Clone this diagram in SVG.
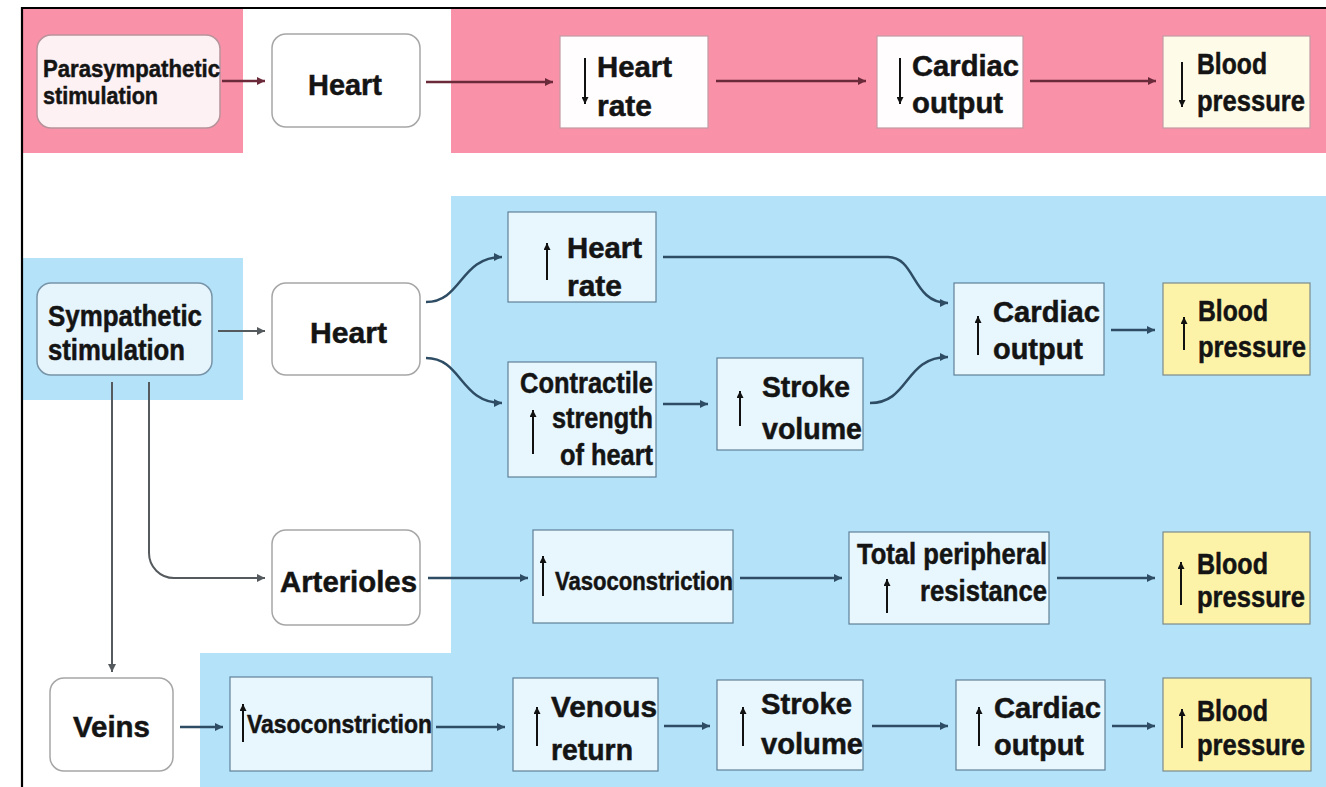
<svg xmlns="http://www.w3.org/2000/svg" width="1326" height="787" viewBox="0 0 1326 787">
  <style>
    .lbl { font-family: "Liberation Sans", Arial, sans-serif; font-weight: bold; fill: #141414; stroke: #141414; stroke-width: 0.5; }
    .f22 { font-size: 24px; }
    .f24 { font-size: 26px; }
    .f27 { font-size: 29px; }
    .f28 { font-size: 30px; }
    .node-r { fill: #ffffff; stroke: #a6a6a6; stroke-width: 1.5; }
    .box-p { fill: #fffdfd; stroke: #c49aa4; stroke-width: 1.2; }
    .box-b { fill: #e8f7fd; stroke: #5f8098; stroke-width: 1.2; }
    .box-y { fill: #fdf3a8; stroke: #7d8a8a; stroke-width: 1.2; }
    .c-pink { fill: none; stroke: #6b2a3a; stroke-width: 2.5; marker-end: url(#ah-pink); }
    .c-blue { fill: none; stroke: #2e4d64; stroke-width: 2.5; marker-end: url(#ah-blue); }
    .c-gray { fill: none; stroke: #555a5e; stroke-width: 2; marker-end: url(#ah-gray); }
    .ind { fill: none; stroke: #111; stroke-width: 2; marker-end: url(#ah-ind); }
  </style>
  <defs>
    <marker id="ah-pink" viewBox="0 0 10 10" refX="10" refY="5" markerWidth="11" markerHeight="8" markerUnits="userSpaceOnUse" orient="auto">
      <path d="M0,0 L10,5 L0,10 z" fill="#6b2a3a"/>
    </marker>
    <marker id="ah-blue" viewBox="0 0 10 10" refX="10" refY="5" markerWidth="11" markerHeight="8" markerUnits="userSpaceOnUse" orient="auto">
      <path d="M0,0 L10,5 L0,10 z" fill="#2e4d64"/>
    </marker>
    <marker id="ah-gray" viewBox="0 0 10 10" refX="10" refY="5" markerWidth="10" markerHeight="8" markerUnits="userSpaceOnUse" orient="auto">
      <path d="M0,0 L10,5 L0,10 z" fill="#555a5e"/>
    </marker>
    <marker id="ah-ind" viewBox="0 0 10 10" refX="10" refY="5" markerWidth="10" markerHeight="7" markerUnits="userSpaceOnUse" orient="auto">
      <path d="M0,0 L10,5 L0,10 z" fill="#111"/>
    </marker>
  </defs>

  <!-- page background -->
  <rect x="0" y="0" width="1326" height="787" fill="#ffffff"/>

  <!-- coloured bands -->
  <g id="bands">
    <rect x="22" y="8" width="221" height="145" fill="#f991a8"/>
    <rect x="451" y="8" width="875" height="145" fill="#f991a8"/>
    <rect x="22" y="258" width="221" height="142" fill="#b3e2f9"/>
    <path d="M451,196 H1326 V787 H200 V653 H451 Z" fill="#b3e2f9"/>
  </g>

  <!-- frame -->
  <g id="frame" stroke="#000" stroke-width="2.2" fill="none">
    <path d="M22,787 V8 H1326"/>
  </g>

  <!-- connectors -->
  <g id="connectors">
    <path class="c-pink" d="M222,81 H265"/>
    <path class="c-pink" d="M426,82 H553"/>
    <path class="c-pink" d="M716,81 H866"/>
    <path class="c-pink" d="M1030,81 H1156"/>

    <path class="c-gray" d="M218,331 H265"/>
    <path class="c-gray" d="M112,382 V672"/>
    <path class="c-gray" d="M149,382 V553 A25,25 0 0 0 174,578 H265"/>

    <path class="c-blue" d="M426,302 C462,302 460,257 502,257"/>
    <path class="c-blue" d="M426,358 C462,358 460,403 502,403"/>
    <path class="c-blue" d="M663,257 H888 C916,257 912,303 948,303"/>
    <path class="c-blue" d="M663,404 H708"/>
    <path class="c-blue" d="M870,403 C910,403 904,357 948,357"/>
    <path class="c-blue" d="M1111,330 H1155"/>

    <path class="c-blue" d="M428,578 H528"/>
    <path class="c-blue" d="M740,578 H842"/>
    <path class="c-blue" d="M1057,578 H1155"/>

    <path class="c-blue" d="M180,727 H223"/>
    <path class="c-blue" d="M436,727 H505"/>
    <path class="c-blue" d="M664,726 H710"/>
    <path class="c-blue" d="M872,726 H948"/>
    <path class="c-blue" d="M1112,726 H1155"/>
  </g>

  <!-- parasympathetic chain -->
  <g id="para-stim">
    <rect x="37" y="35" width="183" height="93" rx="14" fill="#fdf1f3" stroke="#b8939b" stroke-width="1.5"/>
    <text class="lbl f22" x="43" y="77" textLength="177" lengthAdjust="spacingAndGlyphs">Parasympathetic</text>
    <text class="lbl f22" x="43" y="104" textLength="115" lengthAdjust="spacingAndGlyphs">stimulation</text>
  </g>
  <g id="heart-para">
    <rect class="node-r" x="272" y="34" width="148" height="93" rx="14"/>
    <text class="lbl f28" x="308" y="95" textLength="74" lengthAdjust="spacingAndGlyphs">Heart</text>
  </g>
  <g id="hr-down">
    <rect class="box-p" x="560" y="36" width="148" height="92"/>
    <path class="ind" d="M585,58 V104"/>
    <text class="lbl f27" x="597" y="77" textLength="75" lengthAdjust="spacingAndGlyphs">Heart</text>
    <text class="lbl f27" x="597" y="116" textLength="55" lengthAdjust="spacingAndGlyphs">rate</text>
  </g>
  <g id="co-down">
    <rect class="box-p" x="877" y="36" width="146" height="92"/>
    <path class="ind" d="M900,58 V104"/>
    <text class="lbl f27" x="912" y="76" textLength="107" lengthAdjust="spacingAndGlyphs">Cardiac</text>
    <text class="lbl f27" x="912" y="113" textLength="91" lengthAdjust="spacingAndGlyphs">output</text>
  </g>
  <g id="bp-down">
    <rect x="1163" y="36" width="147" height="92" fill="#fefbe8" stroke="#c49aa4" stroke-width="1.2"/>
    <path class="ind" d="M1182,62 V107"/>
    <text class="lbl f27" x="1197" y="74" textLength="70" lengthAdjust="spacingAndGlyphs">Blood</text>
    <text class="lbl f27" x="1197" y="111" textLength="108" lengthAdjust="spacingAndGlyphs">pressure</text>
  </g>

  <!-- sympathetic: heart -->
  <g id="symp-stim">
    <rect x="37" y="283" width="175" height="92" rx="14" fill="#e6f5fc" stroke="#7894a8" stroke-width="1.5"/>
    <text class="lbl f27" x="48" y="326" textLength="154" lengthAdjust="spacingAndGlyphs">Sympathetic</text>
    <text class="lbl f27" x="48" y="360" textLength="137" lengthAdjust="spacingAndGlyphs">stimulation</text>
  </g>
  <g id="heart-symp">
    <rect class="node-r" x="272" y="283" width="148" height="92" rx="14"/>
    <text class="lbl f28" x="310" y="343" textLength="77" lengthAdjust="spacingAndGlyphs">Heart</text>
  </g>
  <g id="hr-up">
    <rect class="box-b" x="508" y="212" width="148" height="90"/>
    <path class="ind" d="M547,280 V243"/>
    <text class="lbl f27" x="567" y="258" textLength="75" lengthAdjust="spacingAndGlyphs">Heart</text>
    <text class="lbl f27" x="567" y="296" textLength="55" lengthAdjust="spacingAndGlyphs">rate</text>
  </g>
  <g id="contractile">
    <rect class="box-b" x="508" y="362" width="148" height="115"/>
    <path class="ind" d="M533,454 V410"/>
    <text class="lbl f27" x="520" y="393" textLength="133" lengthAdjust="spacingAndGlyphs">Contractile</text>
    <text class="lbl f27" x="552" y="428" textLength="101" lengthAdjust="spacingAndGlyphs">strength</text>
    <text class="lbl f27" x="560" y="465" textLength="93" lengthAdjust="spacingAndGlyphs">of heart</text>
  </g>
  <g id="sv-up">
    <rect class="box-b" x="717" y="358" width="146" height="92"/>
    <path class="ind" d="M740,426 V391"/>
    <text class="lbl f27" x="762" y="397" textLength="88" lengthAdjust="spacingAndGlyphs">Stroke</text>
    <text class="lbl f27" x="762" y="439" textLength="100" lengthAdjust="spacingAndGlyphs">volume</text>
  </g>
  <g id="co-up">
    <rect class="box-b" x="954" y="283" width="150" height="92"/>
    <path class="ind" d="M978,355 V316"/>
    <text class="lbl f27" x="993" y="322" textLength="107" lengthAdjust="spacingAndGlyphs">Cardiac</text>
    <text class="lbl f27" x="993" y="359" textLength="90" lengthAdjust="spacingAndGlyphs">output</text>
  </g>
  <g id="bp-up-heart">
    <rect class="box-y" x="1163" y="283" width="147" height="92"/>
    <path class="ind" d="M1184,350 V317"/>
    <text class="lbl f27" x="1198" y="321" textLength="70" lengthAdjust="spacingAndGlyphs">Blood</text>
    <text class="lbl f27" x="1198" y="357" textLength="108" lengthAdjust="spacingAndGlyphs">pressure</text>
  </g>

  <!-- sympathetic: arterioles -->
  <g id="arterioles">
    <rect class="node-r" x="272" y="530" width="148" height="95" rx="14"/>
    <text class="lbl f28" x="280" y="592" textLength="137" lengthAdjust="spacingAndGlyphs">Arterioles</text>
  </g>
  <g id="vaso-art">
    <rect class="box-b" x="533" y="530" width="200" height="93"/>
    <path class="ind" d="M543,596 V556"/>
    <text class="lbl f24" x="555" y="590" textLength="178" lengthAdjust="spacingAndGlyphs">Vasoconstriction</text>
  </g>
  <g id="tpr">
    <rect class="box-b" x="849" y="532" width="200" height="92"/>
    <path class="ind" d="M887,613 V579"/>
    <text class="lbl f27" x="857" y="564" textLength="190" lengthAdjust="spacingAndGlyphs">Total peripheral</text>
    <text class="lbl f27" x="920" y="601" textLength="127" lengthAdjust="spacingAndGlyphs">resistance</text>
  </g>
  <g id="bp-up-art">
    <rect class="box-y" x="1163" y="532" width="147" height="92"/>
    <path class="ind" d="M1181,605 V562"/>
    <text class="lbl f27" x="1197" y="574" textLength="71" lengthAdjust="spacingAndGlyphs">Blood</text>
    <text class="lbl f27" x="1197" y="607" textLength="108" lengthAdjust="spacingAndGlyphs">pressure</text>
  </g>

  <!-- sympathetic: veins -->
  <g id="veins">
    <rect class="node-r" x="50" y="678" width="123" height="93" rx="14"/>
    <text class="lbl f28" x="73" y="737" textLength="77" lengthAdjust="spacingAndGlyphs">Veins</text>
  </g>
  <g id="vaso-vein">
    <rect class="box-b" x="230" y="677" width="202" height="94"/>
    <path class="ind" d="M243,742 V704"/>
    <text class="lbl f24" x="247" y="733" textLength="185" lengthAdjust="spacingAndGlyphs">Vasoconstriction</text>
  </g>
  <g id="venous-up">
    <rect class="box-b" x="513" y="678" width="145" height="93"/>
    <path class="ind" d="M537,746 V707"/>
    <text class="lbl f27" x="551" y="717" textLength="106" lengthAdjust="spacingAndGlyphs">Venous</text>
    <text class="lbl f27" x="551" y="760" textLength="82" lengthAdjust="spacingAndGlyphs">return</text>
  </g>
  <g id="sv-up-vein">
    <rect class="box-b" x="717" y="680" width="146" height="90"/>
    <path class="ind" d="M743,746 V707"/>
    <text class="lbl f27" x="761" y="714" textLength="91" lengthAdjust="spacingAndGlyphs">Stroke</text>
    <text class="lbl f27" x="761" y="754" textLength="102" lengthAdjust="spacingAndGlyphs">volume</text>
  </g>
  <g id="co-up-vein">
    <rect class="box-b" x="956" y="680" width="149" height="90"/>
    <path class="ind" d="M979,746 V707"/>
    <text class="lbl f27" x="994" y="718" textLength="107" lengthAdjust="spacingAndGlyphs">Cardiac</text>
    <text class="lbl f27" x="994" y="755" textLength="90" lengthAdjust="spacingAndGlyphs">output</text>
  </g>
  <g id="bp-up-vein">
    <rect class="box-y" x="1163" y="678" width="148" height="93"/>
    <path class="ind" d="M1182,748 V709"/>
    <text class="lbl f27" x="1197" y="721" textLength="71" lengthAdjust="spacingAndGlyphs">Blood</text>
    <text class="lbl f27" x="1197" y="755" textLength="108" lengthAdjust="spacingAndGlyphs">pressure</text>
  </g>
</svg>
